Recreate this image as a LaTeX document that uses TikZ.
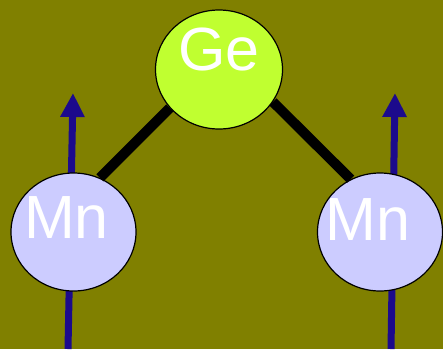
\documentclass[tikz,border=0pt]{standalone}
\usepackage{fontspec}
\setmainfont{Liberation Sans}
\definecolor{bgolive}{RGB}{128,128,0}
\definecolor{gelime}{RGB}{192,255,48}
\definecolor{mnlilac}{RGB}{204,204,255}
\definecolor{spinblue}{RGB}{28,10,140}
\usetikzlibrary{arrows.meta,shapes.geometric}

\begin{document}
\begin{tikzpicture}[x=1pt, y=-1pt,
      atom/.style={draw, ellipse, line width=1.2pt, inner sep=0pt},
      ge/.style={atom, fill=gelime, minimum width=127pt, minimum height=119pt},
      mn/.style={atom, fill=mnlilac, minimum width=125pt, minimum height=118pt},
      sym/.style={text=white, font=\fontsize{61}{61}\selectfont, inner sep=0pt},
      bond/.style={line width=10pt, black},
      spin/.style={-{Triangle[length=24pt,width=23pt]}, line width=7pt, color=spinblue}
  ]
    \fill[bgolive] (0,0) rectangle (443,349);
    \useasboundingbox (0,0) rectangle (443,349);
    % spins (behind the atoms)
    \coordinate (sl0) at (68,349);
    \coordinate (sl1) at (73,93);
    \coordinate (sr0) at (391,349);
    \coordinate (sr1) at (395,93);
    \draw[spin] (sl0)--(sl1);
    \draw[spin] (sr0)--(sr1);
    % atoms
    \node[ge] (ge) at (219,69.5) {};
    \node[mn] (mnl) at (73.5,232) {};
    \node[mn] (mnr) at (380,232) {};
    \node[sym] (get) at (219,49) {Ge};
    \node[sym] (mnlt) at (66.5,218) {Mn};
    \node[sym] (mnrt) at (368,220) {Mn};
    % bonds
    \draw[bond] (ge.218)--(mnl.64);
    \draw[bond] (ge.329)--(mnr.119);
  \end{tikzpicture}
\end{document}
